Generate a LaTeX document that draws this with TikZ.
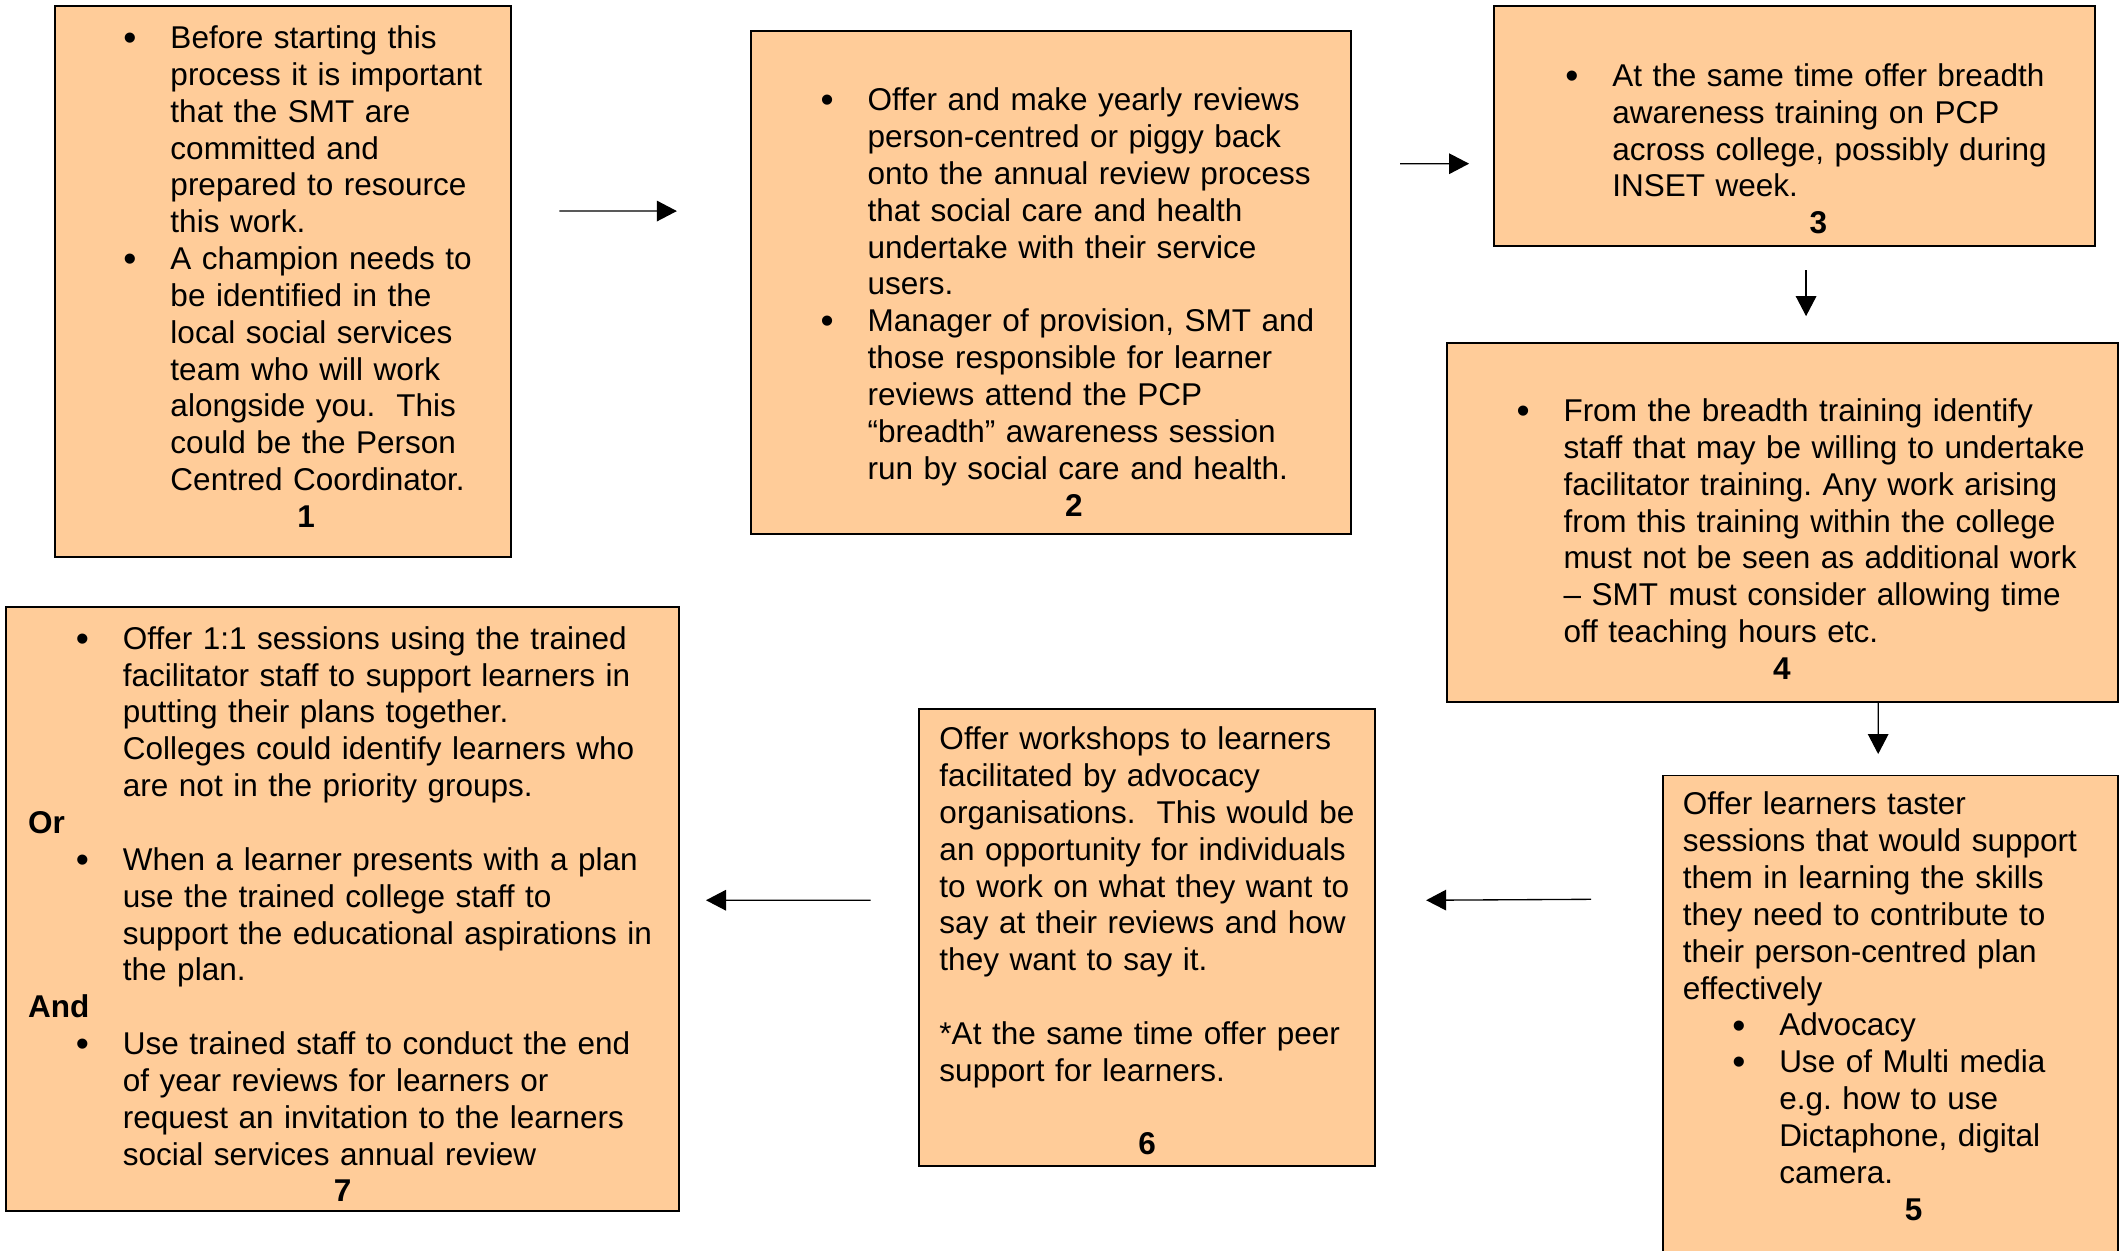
\documentclass[tikz,border=0pt]{standalone}
\usepackage{fontspec}
\setmainfont{Liberation Sans}
\usepackage{xcolor}
\usepackage{tikz}
\usetikzlibrary{positioning, shapes, arrows.meta}

\definecolor{peach}{RGB}{255,204,153}
\newcommand{\bul}{\leavevmode\llap{\raisebox{-0.8pt}{\fontsize{14pt}{14pt}\selectfont\textbullet}\hspace{12.7pt}}}
\newcommand{\stepno}[2]{\hspace*{#1}\makebox[0pt]{\textbf{#2}}\par}
\frenchspacing

\tikzset{
  task/.style={draw=black, line width=0.7pt, fill=peach, anchor=north west,
    inner xsep=0pt, inner ysep=0pt, align=left,
    font=\fontsize{11.8pt}{13.8pt}\selectfont},
  flow/.style={line width=0.5pt, -{Triangle[length=7.5pt,width=7.7pt]}}
}

\begin{document}
\begin{tikzpicture}[x=1pt, y=-1pt]
    \useasboundingbox (0,0) rectangle (796.6,468.5);

    % top row
    \node[task, text width=170.7pt, text height=15.8pt, text depth=190.5pt] (b1) at (20.3,2.0) {\leftskip=43.2pt
        \bul Before starting this\\
        process it is important\\
        that the SMT are\\
        committed and\\
        prepared to resource\\
        this work.\\
        \bul A champion needs to\\
        be identified in the\\
        local social services\\
        team who will work\\
        alongside you.~ This\\
        could be the Person\\
        Centred Coordinator.\\
        \stepno{50.8pt}{1}};

    \node[task, text width=224.6pt, text height=29.9pt, text depth=158.5pt] (b2) at (280.9,11.2) {\leftskip=43.7pt
        \bul Offer and make yearly reviews\\
        person-centred or piggy back\\
        onto the annual review process\\
        that social care and health\\
        undertake with their service\\
        users.\\
        \bul Manager of provision, SMT and\\
        those responsible for learner\\
        reviews attend the PCP\\
        “breadth” awareness session\\
        run by social care and health.\\
        \stepno{77.2pt}{2}};

    \node[task, text width=225.1pt, text height=30.0pt, text depth=59.9pt] (b3) at (559.3,2.0) {\leftskip=44.2pt
        \bul At the same time offer breadth\\
        awareness training on PCP\\
        across college, possibly during\\
        INSET week.\\
        \stepno{77.2pt}{3}};

    \node[task, text width=251.5pt, text height=29.5pt, text depth=105.1pt] (b4) at (541.5,128.0) {\leftskip=43.7pt
        \bul From the breadth training identify\\
        staff that may be willing to undertake\\
        facilitator training. Any work arising\\
        from this training within the college\\
        must not be seen as additional work\\
        – SMT must consider allowing time\\
        off teaching hours etc.\\
        \stepno{81.8pt}{4}};

    % bottom row
    \node[task, text width=170.7pt, text height=14.7pt, text depth=175.2pt] (b5) at (622.3,290.1) {\leftskip=7.6pt
        Offer learners taster\\
        sessions that would support\\
        them in learning the skills\\
        they need to contribute to\\
        their person-centred plan\\
        effectively\par
        \leftskip=43.7pt
        \bul Advocacy\\
        \bul Use of Multi media\\
        e.g. how to use\\
        Dictaphone, digital\\
        camera.\par
        \leftskip=7.6pt
        \stepno{86.4pt}{5}};

    \node[task, text width=170.7pt, text height=15.2pt, text depth=156.0pt] (b6) at (343.9,265.2) {\leftskip=7.6pt
        Offer workshops to learners\\
        facilitated by advocacy\\
        organisations.~ This would be\\
        an opportunity for individuals\\
        to work on what they want to\\
        say at their reviews and how\\
        they want to say it.\\
        \mbox{}\\
        {*}At the same time offer peer\\
        support for learners.\\
        \mbox{}\\
        \stepno{77.8pt}{6}};

    \node[task, text width=252.0pt, text height=15.7pt, text depth=210.3pt] (b7) at (2.0,227.1) {\leftskip=43.7pt
        \bul Offer 1:1 sessions using the trained\\
        facilitator staff to support learners in\\
        putting their plans together.\\
        Colleges could identify learners who\\
        are not in the priority groups.\\
        \hspace*{-35.5pt}\textbf{Or}\\
        \bul When a learner presents with a plan\\
        use the trained college staff to\\
        support the educational aspirations in\\
        the plan.\\
        \hspace*{-35.5pt}\textbf{And}\\
        \bul Use trained staff to conduct the end\\
        of year reviews for learners or\\
        request an invitation to the learners\\
        social services annual review\\
        \stepno{82.3pt}{7}};

    % arrows
    \draw[flow] ([shift={(17.8,-26.5)}]b1.east) -- ([shift={(-27.4,-26.7)}]b2.west);
    \draw[flow] ([shift={(18.2,-44.4)}]b2.east) -- ([shift={(-9.1,14.0)}]b3.west);
    \draw[flow] ([shift={(4.2,8.7)}]b3.south) -- ([shift={(8.8,-9.6)}]b4.north);
    \draw[flow] ([shift={(35.8,0)}]b4.south) -- ([shift={(-4.6,-7.7)}]b5.north);
    \draw[flow] ([shift={(-26.4,46.7)}]b5.north west) -- ([shift={(18.8,-14.0)}]b6.east);
    \draw[flow] ([shift={(-17.8,-14.0)}]b6.west) -- ([shift={(9.7,-3.3)}]b7.east);
\end{tikzpicture}
\end{document}
